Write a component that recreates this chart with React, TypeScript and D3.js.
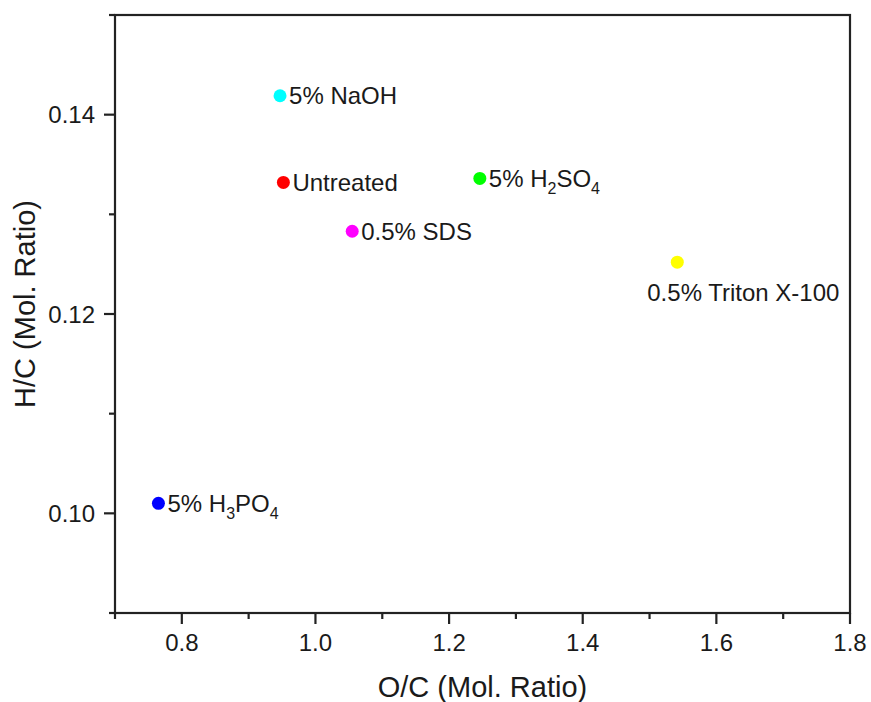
import React from "react";
import * as d3 from "d3";

const labels = ["5% NaOH", "Untreated", "5% H2SO4", "0.5% SDS", "0.5% Triton X-100", "5% H3PO4"];
const ocValues = [0.947, 0.952, 1.246, 1.055, 1.5415, 0.765];
const hcValues = [0.1419, 0.1332, 0.1336, 0.1283, 0.1252, 0.101];
const colors = ["#00ffff", "#ff0000", "#00ff00", "#ff00ff", "#ffff00", "#0000ff"];
const xMajorTicks = [0.8, 1.0, 1.2, 1.4, 1.6, 1.8];
const xMinorTicks = [0.7, 0.9, 1.1, 1.3, 1.5, 1.7];
const yMajorTicks = [0.10, 0.12, 0.14];
const yMinorTicks = [0.09, 0.11, 0.13, 0.15];

const W = 871;
const H = 702;
const FONT = "Liberation Sans, Arial, sans-serif";

function LabelText({ text, x, y, anchor }: { text: string; x: number; y: number; anchor: string }) {
  const m = text.match(/^(5% )H(\d)(S|P)O(\d)$/);
  if (m) {
    return (
      <text x={x} y={y} fontSize={24} fontFamily={FONT} fill="#1a1a1a" textAnchor={anchor}>
        {m[1]}H
        <tspan fontSize={16} dy={7}>{m[2]}</tspan>
        <tspan dy={-7}>{m[3]}O</tspan>
        <tspan fontSize={16} dy={7}>{m[4]}</tspan>
      </text>
    );
  }
  return (
    <text x={x} y={y} fontSize={24} fontFamily={FONT} fill="#1a1a1a" textAnchor={anchor}>
      {text}
    </text>
  );
}

export default function App() {
  const x = d3.scaleLinear().domain([0.7, 1.8]).range([115, 850]);
  const y = d3.scaleLinear().domain([0.09, 0.15]).range([613, 15]);
  const x0 = x.range()[0];
  const x1 = x.range()[1];
  const y0 = y.range()[0];
  const y1 = y.range()[1];
  const axisColor = "#222";
  const fmtX = d3.format(".1f");
  const fmtY = d3.format(".2f");

  return (
    <svg width={W} height={H} style={{ position: "absolute", left: 0, top: 0, background: "#fff" }}>
      <rect x={x0} y={y1} width={x1 - x0} height={y0 - y1} fill="none" stroke={axisColor} strokeWidth={2.2} />
      {xMajorTicks.map((t) => (
        <g key={"xM" + t}>
          <line x1={x(t)} x2={x(t)} y1={y0} y2={y0 + 11} stroke={axisColor} strokeWidth={2.2} />
          <text x={x(t)} y={y0 + 38} fontSize={24} fontFamily={FONT} textAnchor="middle" fill="#1a1a1a">
            {fmtX(t)}
          </text>
        </g>
      ))}
      {xMinorTicks.map((t) => (
        <line key={"xm" + t} x1={x(t)} x2={x(t)} y1={y0} y2={y0 + 6} stroke={axisColor} strokeWidth={2.2} />
      ))}
      {yMajorTicks.map((t) => (
        <g key={"yM" + t}>
          <line x1={x0 - 11} x2={x0} y1={y(t)} y2={y(t)} stroke={axisColor} strokeWidth={2.2} />
          <text x={x0 - 20} y={y(t) + 8.5} fontSize={24} fontFamily={FONT} textAnchor="end" fill="#1a1a1a">
            {fmtY(t)}
          </text>
        </g>
      ))}
      {yMinorTicks.map((t) => (
        <line key={"ym" + t} x1={x0 - 6} x2={x0} y1={y(t)} y2={y(t)} stroke={axisColor} strokeWidth={2.2} />
      ))}
      <text x={(x0 + x1) / 2} y={697} fontSize={29} fontFamily={FONT} textAnchor="middle" fill="#1a1a1a">
        O/C (Mol. Ratio)
      </text>
      <text
        transform={`translate(35, ${(y0 + y1) / 2 - 10}) rotate(-90)`}
        fontSize={29}
        fontFamily={FONT}
        textAnchor="middle"
        fill="#1a1a1a"
      >
        H/C (Mol. Ratio)
      </text>
      {labels.map((lab, i) => {
        const px = x(ocValues[i]);
        const py = y(hcValues[i]);
        const isTriton = lab.includes("Triton");
        return (
          <g key={lab}>
            <circle cx={px} cy={py} r={6.5} fill={colors[i]} />
            {isTriton ? (
              <LabelText text={lab} x={px - 30} y={py + 39} anchor="start" />
            ) : (
              <LabelText text={lab} x={px + 9} y={py + 8.5} anchor="start" />
            )}
          </g>
        );
      })}
    </svg>
  );
}
